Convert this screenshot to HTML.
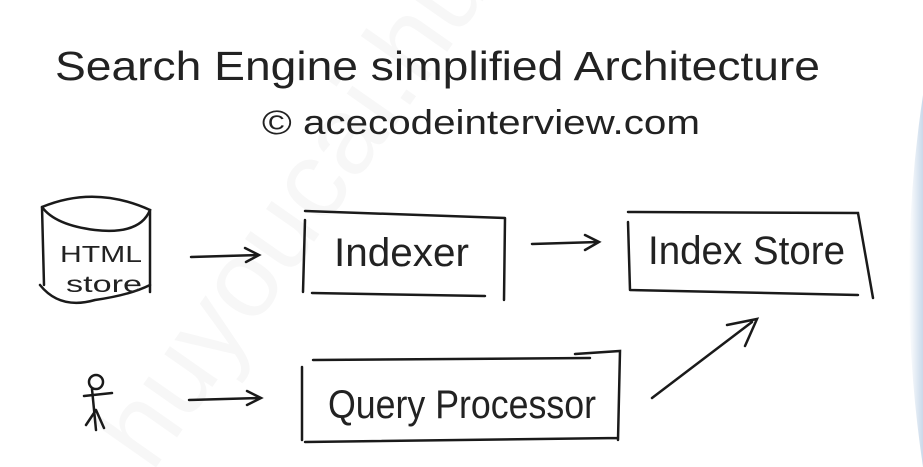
<!DOCTYPE html>
<html><head><meta charset="utf-8"><style>
html,body{margin:0;padding:0;background:#fff;width:923px;height:467px;overflow:hidden}
svg{display:block}
text{font-family:"Liberation Sans",sans-serif;fill:#222}
</style></head><body>
<svg width="923" height="467" viewBox="0 0 923 467" xmlns="http://www.w3.org/2000/svg">
<defs><linearGradient id="g" x1="0" x2="1"><stop offset="0" stop-color="#fff"/><stop offset="1" stop-color="#c9d9ea"/></linearGradient></defs>
<path d="M923 95 Q895 280 923 467 Z" fill="url(#g)"/>
<text x="30" y="360" font-size="110" style="fill:#f7f7f7" transform="rotate(-55 200 300)">huyoucai.hu</text>
<text x="55" y="80" font-size="41" textLength="765" lengthAdjust="spacingAndGlyphs">Search Engine simplified Architecture</text>
<text x="262" y="134" font-size="34" textLength="438" lengthAdjust="spacingAndGlyphs">© acecodeinterview.com</text>
<g fill="none" stroke="#1a1a1a" stroke-width="2.5" stroke-linecap="round">
<path d="M42 207 Q95 185 150 210 Q140 235 95 230 Q55 225 42 207"/>
<path d="M42 207 L44 285 M150 210 L150 292"/>
<path d="M40 285 Q60 310 95 300 Q130 295 150 285"/>
<path d="M191 257 L258 255 M245 248 L259 255 L246 262"/>
<path d="M532 244 L598 242 M585 235 L599 242 L585 250"/>
<path d="M189 400 L260 398 M247 391 L261 398 L247 405"/>
<path d="M652 398 L752 322 M727 325 L757 319 L745 346"/>
<path d="M305 220 L303 292 M305 211 L505 218 M505 218 L504 300 M312 293 L485 296"/>
<path d="M628 222 L630 290 M628 212 L858 213 L873 298 M630 290 L858 295"/>
<path d="M302 367 L302 440 M313 360 L590 358 M575 354 L620 351 L618 440 M305 442 L618 438"/>
<circle cx="96" cy="382" r="7"/>
<path d="M92 389 L96 430 M84 396 L112 393 M96 410 L86 425 M96 410 L104 428"/>
</g>
<text x="60" y="262" font-size="23" textLength="82" lengthAdjust="spacingAndGlyphs">HTML</text>
<text x="66" y="292" font-size="23" textLength="76" lengthAdjust="spacingAndGlyphs">store</text>
<text x="334" y="266" font-size="40" textLength="135" lengthAdjust="spacingAndGlyphs">Indexer</text>
<text x="648" y="264" font-size="40" textLength="197" lengthAdjust="spacingAndGlyphs">Index Store</text>
<text x="328" y="418" font-size="40" textLength="268" lengthAdjust="spacingAndGlyphs">Query Processor</text>
</svg>
</body></html>
